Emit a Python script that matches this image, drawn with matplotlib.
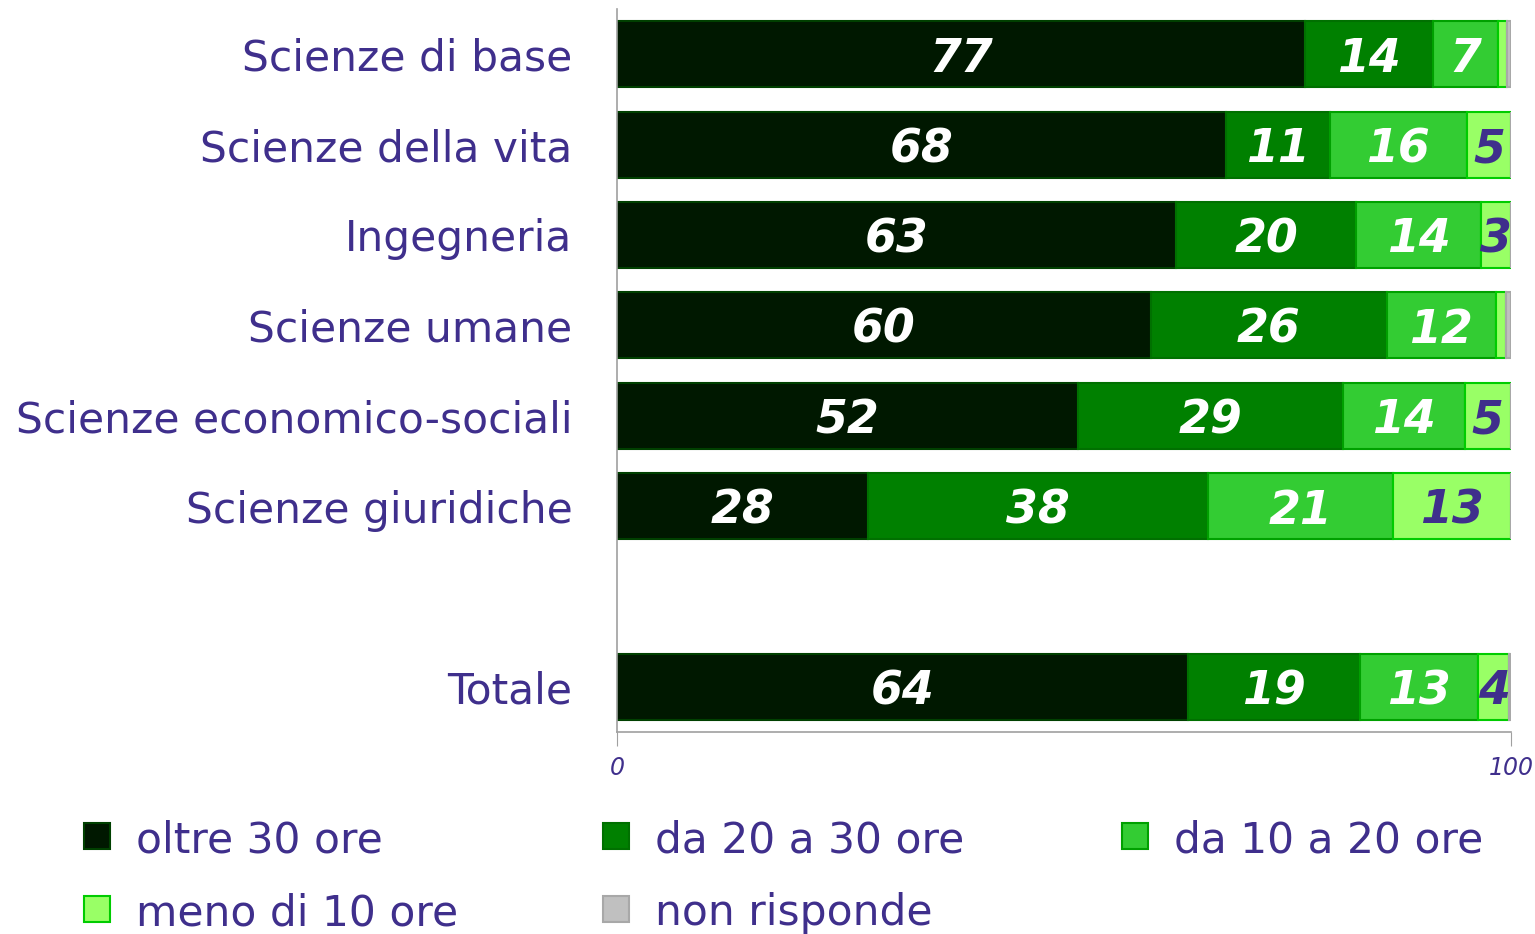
import numpy as np
import matplotlib
matplotlib.use("Agg")
import matplotlib.pyplot as plt
from matplotlib.patches import Rectangle

# Data (percent of respondents per weekly study hours)
categories = ["Scienze di base", "Scienze della vita", "Ingegneria", "Scienze umane",
              "Scienze economico-sociali", "Scienze giuridiche", "Totale"]
positions = [0, 1, 2, 3, 4, 5, 7]  # empty slot before Totale

series_names = ["oltre 30 ore", "da 20 a 30 ore", "da 10 a 20 ore",
                "meno di 10 ore", "non risponde"]
oltre_30 = [77.0, 68.1, 62.5, 59.7, 51.6, 28.1, 63.9]
da_20_30 = [14.3, 11.6, 20.2, 26.4, 29.6, 38.0, 19.2]
da_10_20 = [7.2, 15.4, 13.9, 12.2, 13.6, 20.7, 13.2]
meno_10 = [1.0, 4.9, 3.4, 1.1, 5.2, 13.2, 3.5]
non_risponde = [0.5, 0.0, 0.0, 0.6, 0.0, 0.0, 0.2]

labels_oltre_30 = ["77", "68", "63", "60", "52", "28", "64"]
labels_da_20_30 = ["14", "11", "20", "26", "29", "38", "19"]
labels_da_10_20 = ["7", "16", "14", "12", "14", "21", "13"]
labels_meno_10 = ["", "5", "3", "", "5", "13", "4"]

series = [oltre_30, da_20_30, da_10_20, meno_10, non_risponde]
series_labels = [labels_oltre_30, labels_da_20_30, labels_da_10_20, labels_meno_10, None]

colors = ["#001800", "#008000", "#33cc33", "#99ff66", "#c0c0c0"]
edges = ["#004000", "#007000", "#00a000", "#00cc00", "#a8a8a8"]
label_colors = ["white", "white", "white", "#3f2f8c", "#3f2f8c"]
purple = "#3f2f8c"

plt.rcParams["font.family"] = ["DejaVu Sans"]

fig = plt.figure(figsize=(15.35, 9.34), dpi=100)
ax = fig.add_axes([617 / 1535, 1 - 732 / 934, 894 / 1535, 723 / 934])

left = np.zeros(len(categories))
for vals, labs, col, ec, lc in zip(series, series_labels, colors, edges, label_colors):
    vals = np.array(vals)
    ax.barh(positions, vals, left=left, height=0.73, color=col, edgecolor=ec, linewidth=1.5)
    if labs is not None:
        for p, l, v, lab in zip(positions, left, vals, labs):
            if lab:
                ax.text(l + v / 2, p, lab, ha="center", va="center_baseline", color=lc,
                        fontsize=33, fontweight="bold", fontstyle="italic")
    left += vals

ax.set_xlim(0, 100)
ax.set_ylim(7.5, -0.5)
ax.set_yticks(positions)
ax.set_yticklabels(categories, fontsize=30.5, color=purple, va="center_baseline")
ax.tick_params(axis="y", length=0, pad=32)
ax.set_xticks([0, 100])
ax.set_xticklabels(["0", "100"], fontsize=17, color=purple, fontstyle="italic")
ax.tick_params(axis="x", length=10, color="#a0a0a0", pad=7)
for s in ["top", "right"]:
    ax.spines[s].set_visible(False)
for s in ["left", "bottom"]:
    ax.spines[s].set_color("#a0a0a0")
    ax.spines[s].set_linewidth(1.2)
ax.spines["bottom"].set_bounds(0, 100)

# Legend laid out in a 3 column grid
for i, (name, col, ec) in enumerate(zip(series_names, colors, edges)):
    r, c = divmod(i, 3)
    x0 = (84 + c * 519) / 1535
    yc = 1 - (836 + r * 73) / 934
    fig.add_artist(Rectangle((x0, yc - 13 / 934), 26 / 1535, 26 / 934,
                             transform=fig.transFigure, facecolor=col,
                             edgecolor=ec, linewidth=1.5))
    fig.text(x0 + 52 / 1535, yc, name, fontsize=30.5, color=purple, va="center_baseline")

fig.savefig("out.png", dpi=100)
